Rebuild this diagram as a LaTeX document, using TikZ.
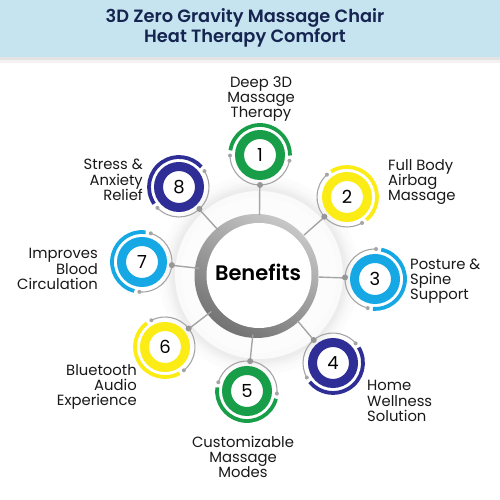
\documentclass[tikz,border=0pt]{standalone}
\usepackage{fontspec}
\setmainfont{Poppins}[BoldFont={Poppins SemiBold}]
\usetikzlibrary{calc}
\definecolor{cgreen}{RGB}{24,158,72}
\definecolor{cyellow}{RGB}{250,236,20}
\definecolor{ccyan}{RGB}{22,168,228}
\definecolor{cnavy}{RGB}{46,46,150}
\definecolor{headbg}{RGB}{198,228,240}
\definecolor{titlecol}{RGB}{22,36,80}
\definecolor{linegray}{RGB}{165,165,165}
\definecolor{dotgray}{RGB}{150,150,150}
\newcommand\benefit[5]{%
  \node[bnode] (#1) at #2 {};
  \fill[white] (#1.center) circle (25);
  \draw[#3, line width=9pt] (#1.center) circle (20.5);
  \draw[#3, line width=3.8pt] (#1.center) ++(#4+261:30) arc[start angle=#4+261, end angle=#4+89, radius=30];
  \draw[linegray, line width=1.1pt] (#1.center) ++(#4-89:30) arc[start angle=#4-89, end angle=#4+79, radius=30];
  \fill[linegray] (#1.center) ++(#4-89:30) circle (2);
  \fill[linegray] (#1.center) ++(#4+79:30) circle (2);
  \draw[conn] (#1) -- (big);
  \fill[dotgray] (#1.#4) circle (3);
  \node[num] at (#1.center) {#5};
}
\begin{document}
\begin{tikzpicture}[x=1pt,y=1pt,
  bnode/.style={circle, minimum size=60pt, inner sep=0pt, outer sep=0pt},
  lbl/.style={font=\fontsize{14.8}{15.2}\selectfont, text=black!90, inner sep=0pt},
  num/.style={font=\fontsize{18}{20}\selectfont, text=black},
  conn/.style={draw=linegray, line width=1.4pt},
]
\useasboundingbox (0,0) rectangle (500,500);
\fill[white] (0,0) rectangle (500,500);
% header
\fill[gray!10] (0,437) rectangle (500,443);
\fill[gray!22] (0,440) rectangle (500,443);
\fill[headbg] (0,443) rectangle (500,500);
\node[font=\bfseries\fontsize{17.8}{20.5}\selectfont, text=titlecol, align=center] (title) at (245,472) {3D Zero Gravity Massage Chair\\Heat Therapy Comfort};
% big ring
\node[circle, minimum size=120pt, inner sep=0pt, outer sep=0pt] (big) at (259,225) {};
\foreach \r/\g in {100/2,96/4,93/7,90/10,88/13,86/15} \fill[gray!\g] (big.center) circle (\r);
\fill[gray!4] (big.center) circle (84);
\fill[gray!2] (big.center) circle (78);
\shade[top color=black!22, bottom color=black!55, shading angle=-30] (256.5,224) circle (62);
\fill[white] (259,224.5) circle (52.5);
\node[font=\bfseries\fontsize{21}{24}\selectfont, text=black] (ben) at (258,228) {Benefits};
% benefits
\benefit{c1}{(260,345)}{cgreen}{-90}{1}
\benefit{c2}{(347,303)}{cyellow}{-139}{2}
\benefit{c3}{(375,221)}{ccyan}{177}{3}
\benefit{c4}{(333,137)}{cnavy}{130}{4}
\benefit{c5}{(247,109)}{cgreen}{84}{5}
\benefit{c6}{(165,153)}{cyellow}{38}{6}
\benefit{c7}{(142,238)}{ccyan}{-6}{7}
\benefit{c8}{(179,313)}{cnavy}{-47}{8}
% labels
\node[lbl, align=center] (l1) at (261,401) {Deep 3D\\Massage\\Therapy};
\node[lbl, align=left, anchor=west] (l2) at (388,318) {Full Body\\Airbag\\Massage};
\node[lbl, align=left, anchor=west] (l3) at (410,219) {Posture \&\\Spine\\Support};
\node[lbl, align=left, anchor=west] (l4) at (367,99) {Home\\Wellness\\Solution};
\node[lbl, align=center] (l5) at (243,43) {Customizable\\Massage\\Modes};
\node[lbl, align=right, anchor=east] (l6) at (137,113) {Bluetooth\\Audio\\Experience};
\node[lbl, align=right, anchor=east] (l7) at (98,231) {Improves\\Blood\\Circulation};
\node[lbl, align=right, anchor=east] (l8) at (143,320) {Stress \&\\Anxiety\\Relief};
\end{tikzpicture}
\end{document}
